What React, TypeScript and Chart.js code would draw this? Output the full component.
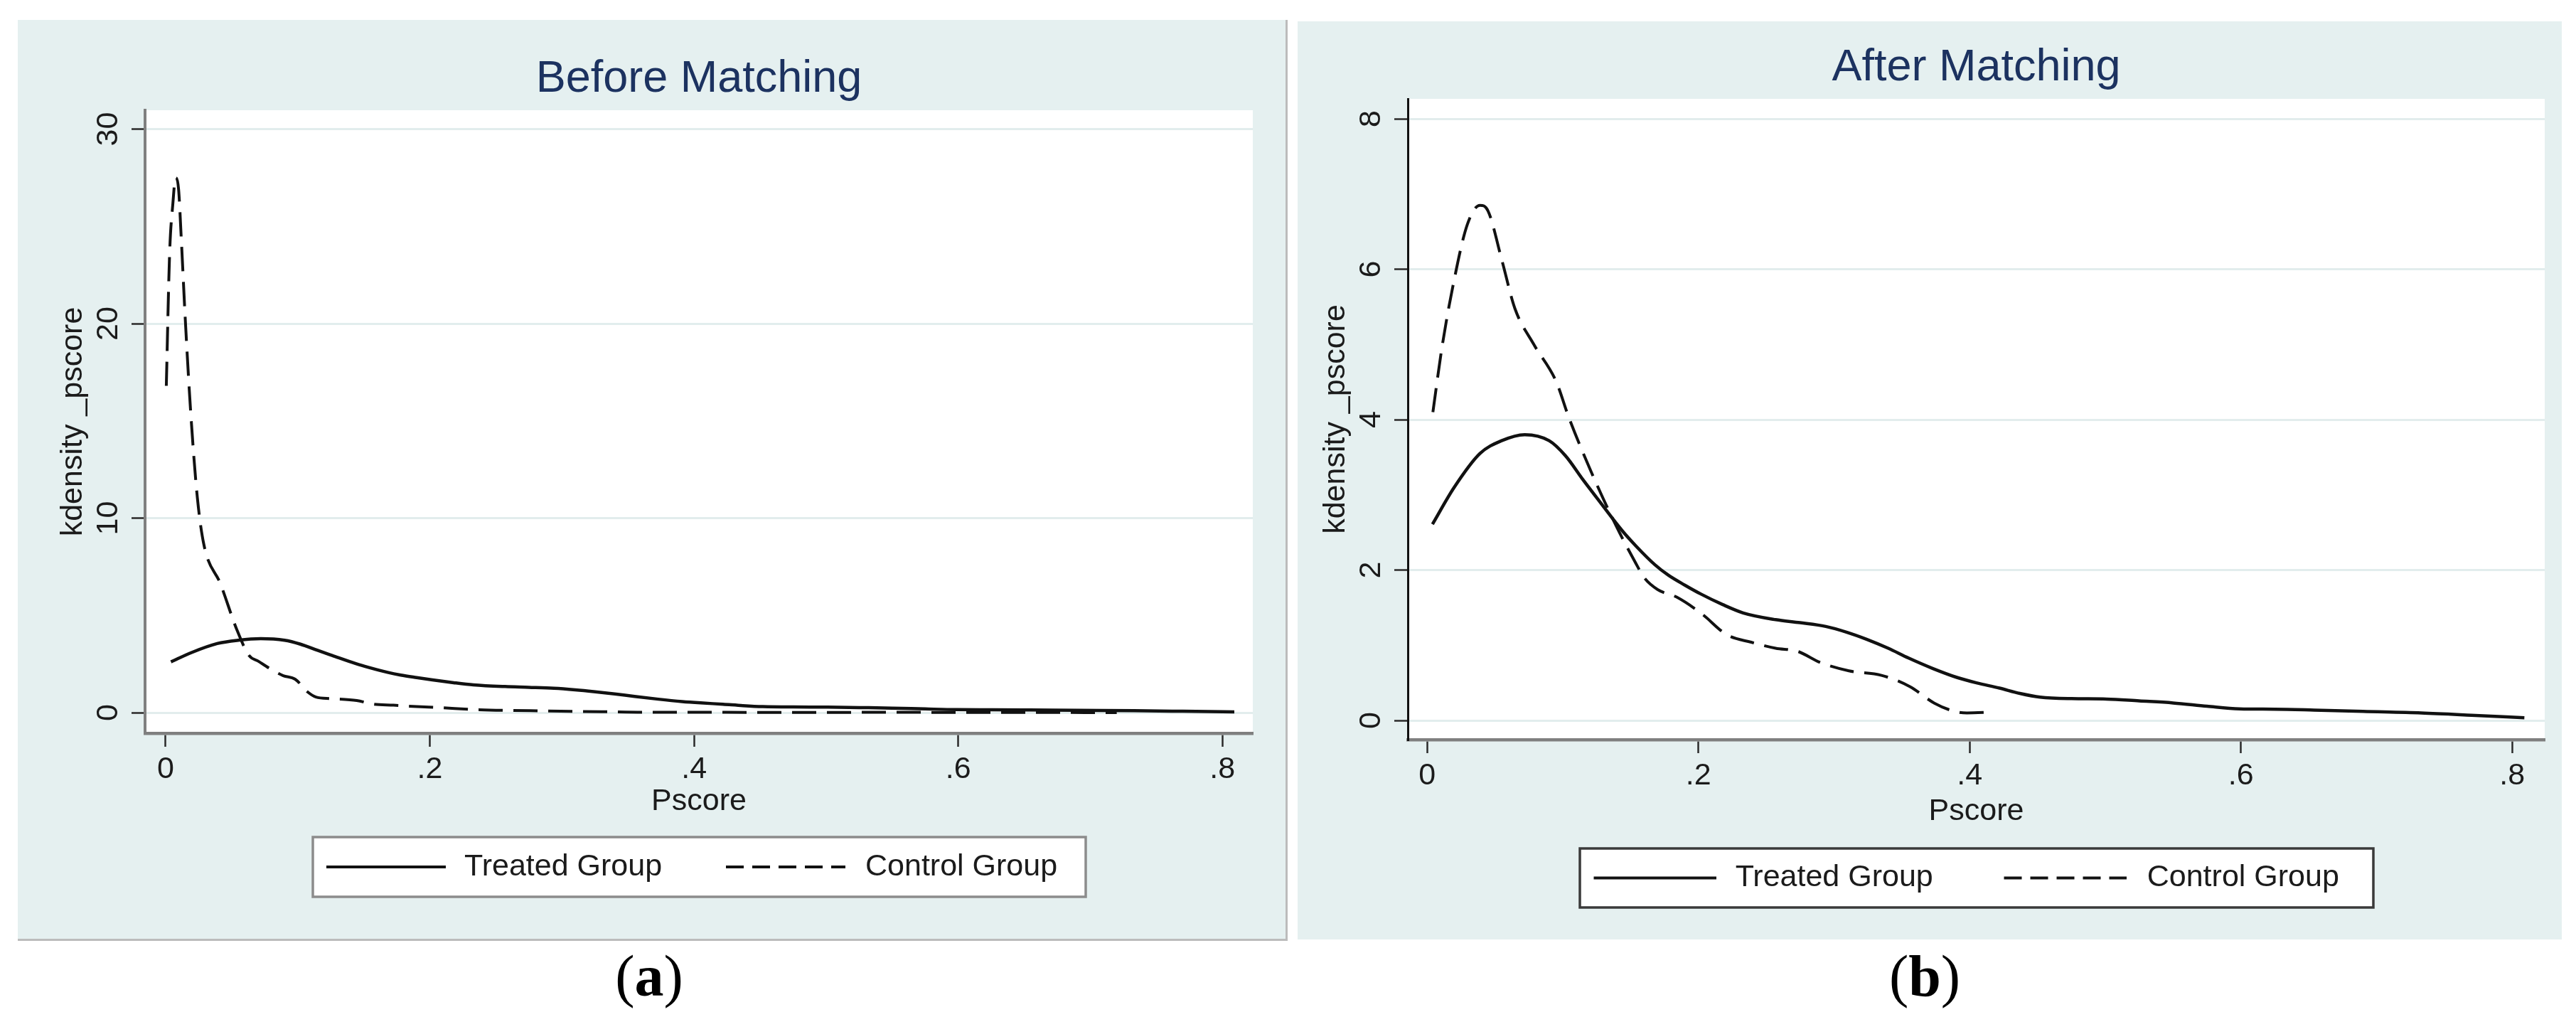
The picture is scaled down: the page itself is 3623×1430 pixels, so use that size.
import React, { useEffect, useRef } from 'react';
import { Chart, registerables } from 'chart.js';

Chart.register(...registerables);

// ---------------- data ----------------
const X_TICKS = [0, 0.2, 0.4, 0.6, 0.8];
const X_TICK_LABELS = ['0', '.2', '.4', '.6', '.8'];

const Y_TICKS_BEFORE = [0, 10, 20, 30];
const Y_TICK_LABELS_BEFORE = ['0', '10', '20', '30'];
const Y_TICKS_AFTER = [0, 2, 4, 6, 8];
const Y_TICK_LABELS_AFTER = ['0', '2', '4', '6', '8'];

const SERIES_LABELS = ['Treated Group', 'Control Group'];
const PANEL_TITLES = ['Before Matching', 'After Matching'];
const X_TITLE = 'Pscore';
const Y_TITLE = 'kdensity _pscore';
const CAPTIONS = ['a', 'b'];

// Treated group kernel density (identical before / after matching)
const TREATED_X = [0.004, 0.02, 0.039, 0.055, 0.072, 0.09, 0.102, 0.115, 0.126, 0.144, 0.154, 0.168, 0.178, 0.19, 0.202, 0.218, 0.233, 0.257, 0.275, 0.294, 0.31, 0.324, 0.34, 0.355, 0.373, 0.391, 0.405, 0.422, 0.437, 0.452, 0.475, 0.501, 0.525, 0.55, 0.575, 0.599, 0.625, 0.654, 0.69, 0.733, 0.77, 0.809];
const TREATED_Y = [2.61, 3.1, 3.55, 3.72, 3.8, 3.72, 3.52, 3.2, 2.94, 2.52, 2.32, 2.07, 1.93, 1.8, 1.68, 1.54, 1.43, 1.34, 1.3, 1.25, 1.17, 1.08, 0.96, 0.83, 0.69, 0.57, 0.5, 0.43, 0.36, 0.31, 0.29, 0.285, 0.26, 0.233, 0.19, 0.155, 0.15, 0.138, 0.12, 0.1, 0.07, 0.035];

// Control group before matching
const CONTROL_BEFORE_X = [0.0005, 0.003, 0.0055, 0.0075, 0.0098, 0.0118, 0.0148, 0.019, 0.024, 0.029, 0.0415, 0.0538, 0.063, 0.0705, 0.0785, 0.089, 0.098, 0.1077, 0.1138, 0.125, 0.1447, 0.157, 0.1725, 0.19, 0.2066, 0.2374, 0.276, 0.299, 0.33, 0.361, 0.4, 0.45, 0.5, 0.55, 0.6, 0.65, 0.72];
const CONTROL_BEFORE_Y = [16.8, 23.6, 26.2, 27.5, 26.9, 24.4, 20.3, 15.4, 11.05, 8.62, 6.62, 4.28, 2.95, 2.63, 2.28, 1.9, 1.72, 1.05, 0.8, 0.72, 0.62, 0.44, 0.38, 0.31, 0.26, 0.15, 0.1, 0.07, 0.05, 0.02, 0.02, 0.01, 0.01, 0.02, 0.01, 0.01, 0.0];

// Control group after matching
const CONTROL_AFTER_X = [0.0043, 0.0109, 0.019, 0.0296, 0.039, 0.0448, 0.0553, 0.0647, 0.0787, 0.0951, 0.1045, 0.1209, 0.1396, 0.1536, 0.16, 0.17, 0.184, 0.2024, 0.221, 0.239, 0.257, 0.273, 0.29, 0.311, 0.335, 0.356, 0.374, 0.389, 0.398, 0.416];
const CONTROL_AFTER_Y = [4.1, 4.95, 5.77, 6.59, 6.85, 6.78, 6.11, 5.48, 5.0, 4.51, 4.03, 3.31, 2.58, 2.1, 1.9, 1.74, 1.64, 1.42, 1.14, 1.04, 0.96, 0.92, 0.77, 0.66, 0.6, 0.45, 0.23, 0.12, 0.1, 0.11];

// ---------------- style ----------------
const FONT = "'Liberation Sans', Arial, Helvetica, sans-serif";
const SERIF = "'Liberation Serif', 'Times New Roman', serif";
const TEXT_COLOR = '#1b1b1b';
const TITLE_COLOR = '#1c3260';
const PANEL_BG = '#e5f0f0';
const GRID_COLOR = '#e2eded';
const LINE_COLOR = '#111111';
const FS = 43;
const CURVE_DASH = [34, 15];
const LEGEND_DASH = [25, 12];
const LEGEND_BASE_W = 1087;
const LEGEND_ITEMS_POS = [
  { sample: 19, text: 213 },
  { sample: 581, text: 777 },
];
const LEGEND_SAMPLE_LEN = 168;
const X_SCALE_H = 150;

type PanelCfg = {
  left: number; top: number; width: number; height: number;
  area: { left: number; top: number; right: number; bottom: number };
  xMin: number; xMax: number; yMin: number; yMax: number;
  yTicks: number[]; yTickLabels: string[];
  title: string; titleCenter: number;
  yTitlePad: number; yLabelX: number; xTitlePad: number;
  legendW: number; legendTop: number; legendH: number; legendBorder: string;
  yBorder: string; yBorderW: number;
  shadow: boolean;
  control: { x: number[]; y: number[] };
};

const PANEL_A: PanelCfg = {
  left: 25, top: 28, width: 1783, height: 1292,
  area: { left: 179, top: 127, right: 1737, bottom: 1003 },
  xMin: -0.0156, xMax: 0.823, yMin: -1.06, yMax: 30.97,
  yTicks: Y_TICKS_BEFORE, yTickLabels: Y_TICK_LABELS_BEFORE,
  title: PANEL_TITLES[0], titleCenter: 84,
  yTitlePad: 52, yLabelX: 128, xTitlePad: 28,
  legendW: 1087, legendTop: 146, legendH: 84, legendBorder: '#8c8c8c',
  yBorder: '#808080', yBorderW: 4,
  shadow: true,
  control: { x: CONTROL_BEFORE_X, y: CONTROL_BEFORE_Y },
};

const PANEL_B: PanelCfg = {
  left: 1825, top: 30, width: 1778, height: 1291,
  area: { left: 155, top: 109, right: 1754, bottom: 1010 },
  xMin: -0.0142, xMax: 0.824, yMin: -0.255, yMax: 8.265,
  yTicks: Y_TICKS_AFTER, yTickLabels: Y_TICK_LABELS_AFTER,
  title: PANEL_TITLES[1], titleCenter: 66,
  yTitlePad: 28, yLabelX: 104, xTitlePad: 23,
  legendW: 1116, legendTop: 153, legendH: 83, legendBorder: '#3a3a3a',
  yBorder: '#111111', yBorderW: 3,
  shadow: false,
  control: { x: CONTROL_AFTER_X, y: CONTROL_AFTER_Y },
};

function points(xs: number[], ys: number[]) {
  return xs.map((x, i) => ({ x, y: ys[i] }));
}

function makeDecor(cfg: PanelCfg) {
  return {
    id: 'panelDecor',
    beforeDraw(chart: any) {
      const { ctx, chartArea: a } = chart;
      ctx.save();
      ctx.fillStyle = '#ffffff';
      ctx.fillRect(a.left, a.top, a.right - a.left, a.bottom - a.top);
      ctx.restore();
    },
    afterDraw(chart: any) {
      const { ctx, chartArea: a } = chart;
      const yScale = chart.scales.y;
      ctx.save();
      // rotated y tick labels
      ctx.font = `${FS}px ${FONT}`;
      ctx.fillStyle = TEXT_COLOR;
      ctx.textAlign = 'center';
      ctx.textBaseline = 'middle';
      cfg.yTicks.forEach((v, i) => {
        const py = yScale.getPixelForValue(v);
        ctx.save();
        ctx.translate(cfg.yLabelX, py);
        ctx.rotate(-Math.PI / 2);
        ctx.fillText(cfg.yTickLabels[i], 0, 0);
        ctx.restore();
      });
      // framed legend
      const cx = (a.left + a.right) / 2;
      const x0 = Math.round(cx - cfg.legendW / 2);
      const y0 = a.bottom + cfg.legendTop;
      ctx.fillStyle = '#ffffff';
      ctx.fillRect(x0, y0, cfg.legendW, cfg.legendH);
      ctx.strokeStyle = cfg.legendBorder;
      ctx.lineWidth = 3.5;
      ctx.strokeRect(x0, y0, cfg.legendW, cfg.legendH);
      const s = cfg.legendW / LEGEND_BASE_W;
      const cy = y0 + cfg.legendH / 2;
      chart.data.datasets.forEach((ds: any, i: number) => {
        const pos = LEGEND_ITEMS_POS[i];
        const sx = x0 + pos.sample * s;
        ctx.setLineDash(ds.borderDash && ds.borderDash.length ? LEGEND_DASH : []);
        ctx.lineWidth = 4;
        ctx.strokeStyle = ds.borderColor;
        ctx.beginPath();
        ctx.moveTo(sx, cy);
        ctx.lineTo(sx + LEGEND_SAMPLE_LEN * s, cy);
        ctx.stroke();
        ctx.setLineDash([]);
        ctx.fillStyle = TEXT_COLOR;
        ctx.font = `${FS}px ${FONT}`;
        ctx.textAlign = 'left';
        ctx.textBaseline = 'middle';
        ctx.fillText(ds.label, x0 + pos.text * s, cy);
      });
      ctx.restore();
    },
  };
}

function Panel({ cfg }: { cfg: PanelCfg }) {
  const ref = useRef<HTMLCanvasElement>(null);
  useEffect(() => {
    const canvas = ref.current;
    if (!canvas) return;
    const titleLH = 63 * 1.2;
    const titlePadTop = cfg.titleCenter - titleLH / 2;
    const titlePadBottom = cfg.area.top - titlePadTop - titleLH;
    const chart = new Chart(canvas, {
      type: 'line',
      data: {
        datasets: [
          {
            label: SERIES_LABELS[0],
            data: points(TREATED_X, TREATED_Y),
            borderColor: LINE_COLOR,
            borderWidth: 4.5,
            pointRadius: 0,
            cubicInterpolationMode: 'monotone',
            fill: false,
          },
          {
            label: SERIES_LABELS[1],
            data: points(cfg.control.x, cfg.control.y),
            borderColor: LINE_COLOR,
            borderWidth: 4,
            borderDash: CURVE_DASH,
            pointRadius: 0,
            cubicInterpolationMode: 'monotone',
            fill: false,
          },
        ],
      } as any,
      options: {
        responsive: false,
        animation: false,
        devicePixelRatio: 1,
        events: [],
        layout: {
          padding: {
            top: 0,
            left: 0,
            right: cfg.width - cfg.area.right,
            bottom: cfg.height - cfg.area.bottom - X_SCALE_H,
          },
        },
        plugins: {
          legend: { display: false },
          tooltip: { enabled: false },
          title: {
            display: true,
            text: cfg.title,
            color: TITLE_COLOR,
            fullSize: false,
            font: { family: FONT, size: 63, weight: 'normal', lineHeight: 1.2 },
            padding: { top: titlePadTop, bottom: titlePadBottom },
          },
        },
        scales: {
          x: {
            type: 'linear',
            min: cfg.xMin,
            max: cfg.xMax,
            afterBuildTicks: (s: any) => { s.ticks = X_TICKS.map((v) => ({ value: v })); },
            afterFit: (s: any) => { s.height = X_SCALE_H; },
            ticks: {
              callback: (v: any) => X_TICK_LABELS[X_TICKS.indexOf(Number(v))] ?? '',
              font: { family: FONT, size: FS },
              color: TEXT_COLOR,
              padding: 6,
              maxRotation: 0,
              minRotation: 0,
              autoSkip: false,
            },
            grid: {
              drawOnChartArea: false,
              drawTicks: true,
              tickLength: 19,
              tickColor: '#2a2a2a',
              tickWidth: 2.5,
            },
            border: { display: true, color: '#7f7f7f', width: 4.5 },
            title: {
              display: true,
              text: X_TITLE,
              color: TEXT_COLOR,
              font: { family: FONT, size: FS },
              padding: { top: 0, bottom: cfg.xTitlePad },
            },
          },
          y: {
            type: 'linear',
            min: cfg.yMin,
            max: cfg.yMax,
            afterBuildTicks: (s: any) => { s.ticks = cfg.yTicks.map((v) => ({ value: v })); },
            afterFit: (s: any) => { s.width = cfg.area.left; },
            ticks: { display: false },
            grid: {
              color: GRID_COLOR,
              lineWidth: 3,
              drawTicks: true,
              tickLength: 19,
              tickColor: '#2a2a2a',
              tickWidth: 2.5,
            },
            border: { display: true, color: cfg.yBorder, width: cfg.yBorderW },
            title: {
              display: true,
              text: Y_TITLE,
              color: TEXT_COLOR,
              font: { family: FONT, size: FS },
              padding: { top: cfg.yTitlePad, bottom: 0 },
            },
          },
        },
      } as any,
      plugins: [makeDecor(cfg)],
    });
    return () => chart.destroy();
  }, [cfg]);

  return (
    <div
      style={{
        position: 'absolute',
        left: cfg.left,
        top: cfg.top,
        width: cfg.width,
        height: cfg.height,
        background: PANEL_BG,
        borderRight: cfg.shadow ? '3px solid #bcbcbc' : 'none',
        borderBottom: cfg.shadow ? '3px solid #bcbcbc' : 'none',
      }}
    >
      <canvas
        ref={ref}
        width={cfg.width}
        height={cfg.height}
        style={{ display: 'block', width: cfg.width, height: cfg.height }}
      />
    </div>
  );
}

function Caption({ letter, centerX }: { letter: string; centerX: number }) {
  return (
    <div
      style={{
        position: 'absolute',
        left: centerX - 200,
        width: 400,
        top: 1332,
        textAlign: 'center',
        fontFamily: SERIF,
        fontSize: 82,
        lineHeight: '82px',
        color: '#000',
      }}
    >
      (<b>{letter}</b>)
    </div>
  );
}

export default function App() {
  return (
    <div
      style={{
        position: 'absolute',
        left: 0,
        top: 0,
        width: 3623,
        height: 1430,
        background: '#ffffff',
        overflow: 'hidden',
      }}
    >
      <Panel cfg={PANEL_A} />
      <Panel cfg={PANEL_B} />
      <Caption letter={CAPTIONS[0]} centerX={913} />
      <Caption letter={CAPTIONS[1]} centerX={2707} />
    </div>
  );
}
